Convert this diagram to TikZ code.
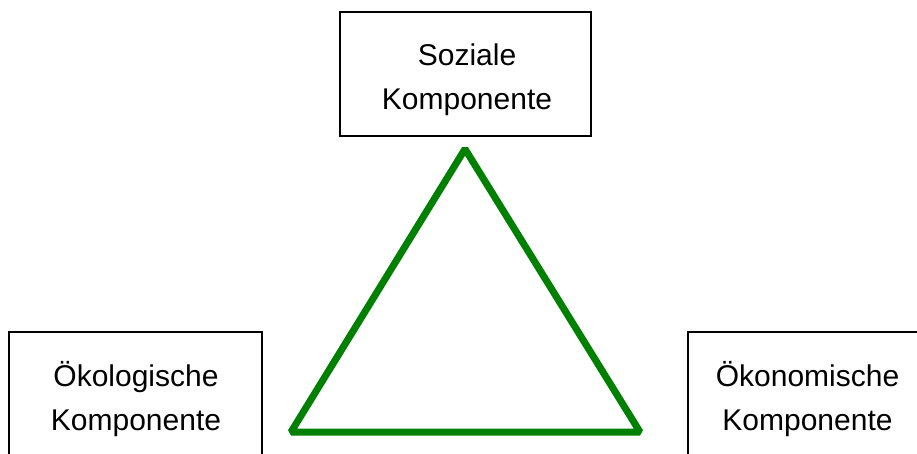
\documentclass[tikz,border=0pt]{standalone}
\usepackage{fontspec}
\setmainfont{Liberation Sans}
\definecolor{triangreen}{RGB}{0,128,0}
\tikzset{
  compbox/.style={draw=black, line width=2pt, minimum width=#1, minimum height=124pt, inner sep=0pt},
  complabel/.style={align=center, inner sep=0pt, font=\fontsize{30}{44}\selectfont},
  triline/.style={draw=triangreen, line width=7pt, line join=bevel}
}
\begin{document}
\begin{tikzpicture}[x=1pt,y=-1pt]
  \useasboundingbox (0,0) rectangle (917,454);
  \clip (0,0) rectangle (917,454);
  % the three component boxes
  \node[compbox=251pt] (soz) at (465.5,74) {};
  \node[compbox=253pt] (oeko) at (135.5,394) {};
  \node[compbox=240pt] (oekon) at (808,394) {};
  % their labels (base anchor sits on the last line)
  \node[complabel, anchor=base] (sozT) at (467,110) {Soziale\\Komponente};
  \node[complabel, anchor=base] (oekoT) at (136,430) {Ökologische\\Komponente};
  \node[complabel, anchor=base] (oekonT) at (807.5,430) {Ökonomische\\Komponente};
  % sustainability triangle
  \coordinate (apex) at (465,149);
  \coordinate (bl) at (291,432);
  \coordinate (br) at (640,432);
  \draw[triline] (apex) -- (br) -- (bl) -- cycle;
\end{tikzpicture}
\end{document}
